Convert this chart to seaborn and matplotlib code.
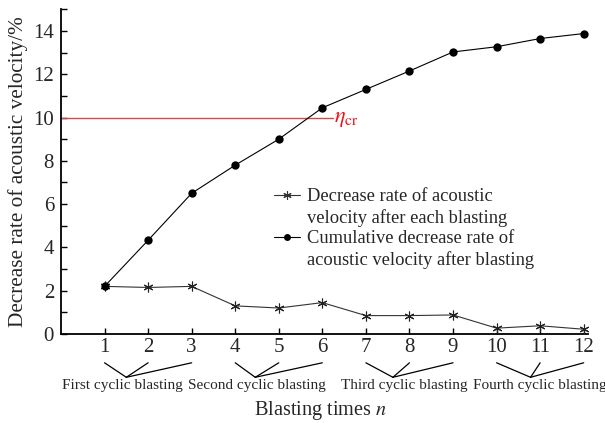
import numpy as np
import pandas as pd
import matplotlib
matplotlib.use("Agg")
import matplotlib.pyplot as plt
from matplotlib.lines import Line2D
from matplotlib.ticker import MultipleLocator
import seaborn as sns

# ---- data ----
blasting_n = [1, 2, 3, 4, 5, 6, 7, 8, 9, 10, 11, 12]
decrease_each = [2.20, 2.15, 2.20, 1.30, 1.20, 1.45, 0.85, 0.85, 0.88, 0.27, 0.38, 0.22]
decrease_cum = [2.20, 4.33, 6.50, 7.80, 9.00, 10.45, 11.30, 12.15, 13.03, 13.27, 13.65, 13.88]
eta_cr = 10
group_names = ["First cyclic blasting", "Second cyclic blasting",
               "Third cyclic blasting", "Fourth cyclic blasting"]
group_members = [[1, 2, 3], [4, 5, 6], [7, 8, 9], [10, 11, 12]]
group_apex = [1.50, 4.46, 7.62, 10.78]
group_text_x = [1.42, 4.50, 7.88, 10.98]
label_each = ["Decrease rate of acoustic", "velocity after each blasting"]
label_cum = ["Cumulative decrease rate of", "acoustic velocity after blasting"]

sns.set_style("ticks")
plt.rcParams["font.family"] = ["Liberation Serif", "DejaVu Serif"]
plt.rcParams["mathtext.fontset"] = "stix"

df = pd.DataFrame({"n": blasting_n, "each": decrease_each, "cum": decrease_cum})

fig = plt.figure(figsize=(6.05, 4.23), dpi=100)
ax = fig.add_axes([0.1008, 0.2104, 0.8712, 0.7676])

sns.lineplot(data=df, x="n", y="each", ax=ax, color="#333333", lw=0.8,
             marker=(6, 2, 0), markersize=7, markeredgewidth=0.8,
             markeredgecolor="#222222", zorder=3)
sns.lineplot(data=df, x="n", y="cum", ax=ax, color="black", lw=0.8,
             marker="o", markersize=6, markeredgewidth=0,
             markerfacecolor="black", zorder=4)

# critical line
ax.plot([0, 6.25], [eta_cr, eta_cr], color="#d24b4b", lw=1.0, zorder=2)
ax.text(6.27, eta_cr - 0.1, r"$\eta_{\mathrm{cr}}$", color="#e8151b",
        fontsize=16, va="center", ha="left")

ax.set_xlim(0, 12.1)
ax.set_ylim(0, 15)
ax.set_xticks(blasting_n)
ax.set_yticks(np.arange(0, 15, 2))
ax.yaxis.set_minor_locator(MultipleLocator(1))
ax.tick_params(axis="both", which="both", direction="in", length=4.5,
               width=1.0, color="black", labelsize=15)
ax.tick_params(axis="x", pad=3)
ax.tick_params(axis="y", pad=5)
for s in ["top", "right"]:
    ax.spines[s].set_visible(False)
for s in ["left", "bottom"]:
    ax.spines[s].set_linewidth(1.3)
    ax.spines[s].set_color("black")

ax.set_xlabel("")
ax.set_ylabel("Decrease rate of acoustic velocity/%", fontsize=15.3, labelpad=4)

# group annotations
for members, apex, tx, name in zip(group_members, group_apex, group_text_x, group_names):
    for m in members:
        ax.plot([m, apex], [-1.33, -2.0], color="black", lw=0.9,
                clip_on=False, transform=ax.transData)
    ax.text(tx, -2.4, name, fontsize=11, ha="center", va="center",
            clip_on=False)

ax.text(5.96, -3.55, r"Blasting times $n$", fontsize=14.6, ha="center",
        va="center", clip_on=False)

# legend
h_each = Line2D([], [], color="#333333", lw=0.8, marker=(6, 2, 0),
                markersize=6, markeredgewidth=0.8)
h_cum = Line2D([], [], color="black", lw=0.8, marker="o", markersize=5,
               markeredgewidth=0)
h_blank = Line2D([], [], linestyle="none")
leg = ax.legend([h_each, h_blank, h_cum, h_blank],
                [label_each[0], label_each[1], label_cum[0], label_cum[1]],
                loc="upper left", bbox_to_anchor=(0.405, 0.449),
                frameon=False, fontsize=13.3, handlelength=1.4,
                handletextpad=0.35, labelspacing=0.2, borderpad=0,
                borderaxespad=0)

fig.savefig("out.png", dpi=100)
